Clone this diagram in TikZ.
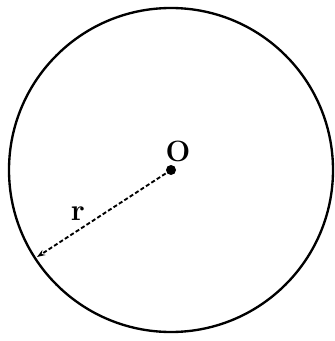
\documentclass[tikz,border=0pt]{standalone}
\usepackage{fontspec}
\usetikzlibrary{arrows.meta}

\begin{document}
\begin{tikzpicture}[x=0.03cm, y=-0.03cm, every node/.style={font=\bfseries}]
\useasboundingbox (0,0) rectangle (334,341);
% Circle
\coordinate (O) at (171,170);
\draw[line width=2pt] (O) circle[radius=162];
\fill (O) circle[radius=5];
\node[font=\fontsize{25}{28}\selectfont\bfseries] (Olabel) at (178,151) {O};

% Radius
\coordinate (P) at (37,257);
\draw[-{Stealth[length=7pt,width=5pt]}, line width=1.6pt, dash pattern=on 3.5pt off 2pt] (O) -- (P);
\node[font=\fontsize{26}{30}\selectfont\bfseries] (rlabel) at (78,214) {r};
\end{tikzpicture}
\end{document}
